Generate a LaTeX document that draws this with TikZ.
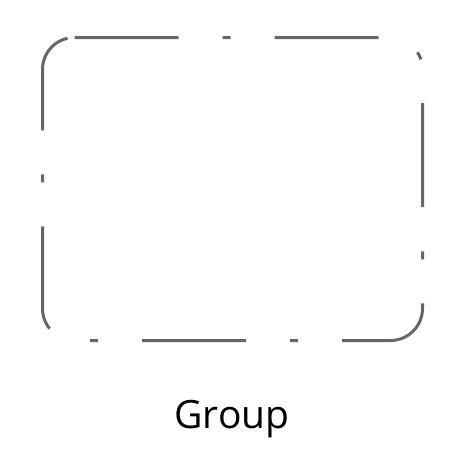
\documentclass[tikz,border=0pt]{standalone}
\usepackage{fontspec}
\setmainfont{Open Sans}
\usepackage{tikz}
\usepackage{xcolor}
\definecolor{groupgray}{HTML}{666666}

\begin{document}
\begin{tikzpicture}[x=1pt, y=-1pt]
				% \draw [step=10, gray, very thin] (0, 0) grid (466, 463);
				\useasboundingbox (0, 0) rectangle (466, 463);
				\draw [groupgray, line width=3pt, rounded corners=32pt, dash pattern=on 104pt off 44pt on 8pt off 44pt] (42.5, 37.5) -- (422.5, 37.5) -- (422.5, 340.5) -- (42.5, 340.5) -- cycle;
				\node [anchor=base, font=\fontsize{39}{45}\selectfont] (grouplabel) at (232, 428) {Group};
			\end{tikzpicture}
\end{document}
